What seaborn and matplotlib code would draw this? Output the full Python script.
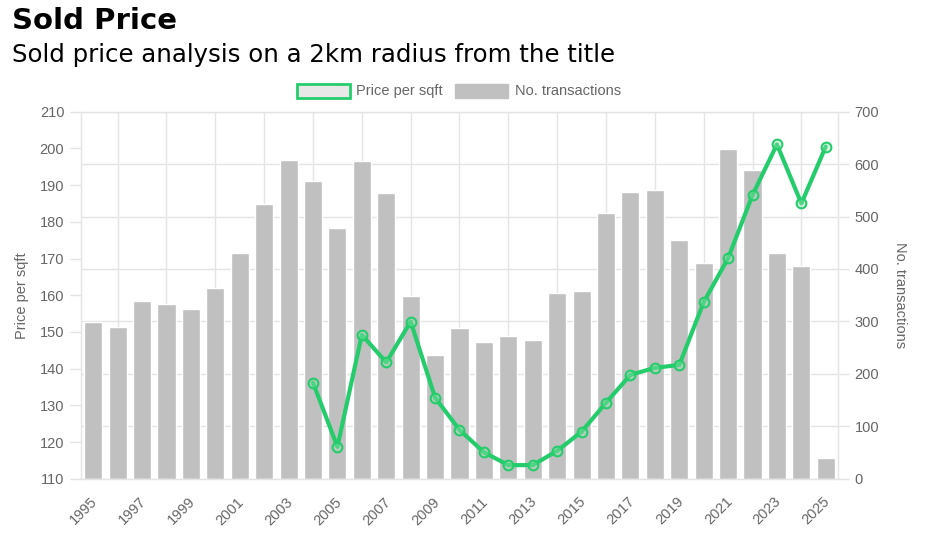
import numpy as np
import matplotlib
matplotlib.use("Agg")
import matplotlib.pyplot as plt
import matplotlib.transforms as mtransforms
from matplotlib.patches import Patch
import seaborn as sns

years = list(range(1995, 2026))
transactions = [298, 290, 338, 333, 324, 363, 431, 524, 608, 568, 479, 606, 545, 349,
                235, 287, 261, 273, 265, 354, 358, 506, 547, 551, 455, 411, 629, 589,
                431, 406, 39]

price_years = list(range(2004, 2026))
price_per_sqft = [136.2, 118.7, 149.2, 141.7, 152.8, 132.1, 123.3, 117.2, 113.7, 113.7,
                  117.6, 122.8, 130.7, 138.3, 140.2, 141.0, 158.1, 170.1, 187.3, 201.1,
                  185.0, 200.5]

price_ticks = list(range(110, 211, 10))
tx_ticks = list(range(0, 701, 100))

GREEN = '#25cc6c'
BAR = '#c0c0c0'
GRID = '#e4e4e4'
TXT = '#666666'

sns.set_style("white")
plt.rcParams['font.family'] = ['Liberation Sans', 'DejaVu Sans']

fig = plt.figure(figsize=(9.42, 5.36), dpi=100)
ax_tx = fig.add_axes([81 / 942, 1 - 478.7 / 536, (838 - 81) / 942, (478.7 - 111.7) / 536])

# bars (right axis)
sns.barplot(x=years, y=transactions, ax=ax_tx, color=BAR, saturation=1, width=0.74)
ax_tx.set_xlim(-0.5, len(years) - 0.5)
ax_tx.set_ylim(0, 700)
ax_tx.set_axisbelow(True)

# line (left axis)
ax_price = ax_tx.twinx()
xpos = [years.index(y) for y in price_years]
sns.lineplot(x=xpos, y=price_per_sqft, ax=ax_price, color=GREEN, lw=3, marker='o',
             markersize=7, markerfacecolor=(0.6, 0.9, 0.7, 0.35),
             markeredgecolor=GREEN, markeredgewidth=1.5)
ax_price.set_ylim(110, 210)

ax_tx.yaxis.tick_right()
ax_tx.yaxis.set_label_position('right')
ax_price.yaxis.tick_left()
ax_price.yaxis.set_label_position('left')

for s in ax_price.spines.values():
    s.set_visible(False)
for s in ax_tx.spines.values():
    s.set_color(GRID)
    s.set_linewidth(1)

# x axis
ax_tx.set_xticks(range(0, len(years), 2))
ax_tx.set_xticklabels([str(y) for y in years[::2]], rotation=45, ha='right',
                      va='center', rotation_mode='anchor')
ax_tx.set_xticks(range(1, len(years), 2), minor=True)
ax_tx.tick_params(axis='x', which='major', length=0, pad=15, labelsize=10.5, labelcolor=TXT)
ax_tx.tick_params(axis='x', which='minor', length=8, color=GRID, width=1)
ax_tx.xaxis.grid(True, which='minor', color=GRID, lw=1)
ax_tx.xaxis.grid(False, which='major')
shift = mtransforms.ScaledTranslation(2 / 100, 0, fig.dpi_scale_trans)
for lab in ax_tx.get_xticklabels():
    lab.set_transform(lab.get_transform() + shift)

# right y axis
ax_tx.set_yticks(tx_ticks)
ax_tx.tick_params(axis='y', length=8, color=GRID, width=1, pad=4, labelsize=10.5,
                  labelcolor=TXT, right=True, left=False)
ax_tx.yaxis.grid(True, color=GRID, lw=1)
ax_tx.set_ylabel('No. transactions', rotation=270, va='bottom', labelpad=10,
                 fontsize=10.5, color=TXT)

# left y axis
ax_price.set_yticks(price_ticks)
ax_price.tick_params(axis='y', length=8, color=GRID, width=1, pad=4, labelsize=10.5,
                     labelcolor=TXT, left=True, right=False)
ax_price.set_ylabel('Price per sqft', labelpad=8, fontsize=10.5, color=TXT)
ax_price.grid(False)

handles = [Patch(facecolor='#e8e8e8', edgecolor=GREEN, linewidth=2, label='Price per sqft'),
           Patch(facecolor=BAR, edgecolor=BAR, label='No. transactions')]
fig.legend(handles=handles, loc='center', bbox_to_anchor=(459 / 942, 1 - 91 / 536),
           ncol=2, frameon=False, fontsize=10.5, labelcolor=TXT, handlelength=3.6,
           handleheight=1.1, handletextpad=0.45, columnspacing=0.85)

fig.text(12 / 942, 1 - 28.5 / 536, 'Sold Price', fontsize=21, fontweight='bold',
         family='DejaVu Sans', color='black', ha='left', va='baseline')
fig.text(12 / 942, 1 - 62 / 536, 'Sold price analysis on a 2km radius from the title',
         fontsize=17.6, family='DejaVu Sans', color='black', ha='left', va='baseline')

fig.savefig('out.png', dpi=100)
